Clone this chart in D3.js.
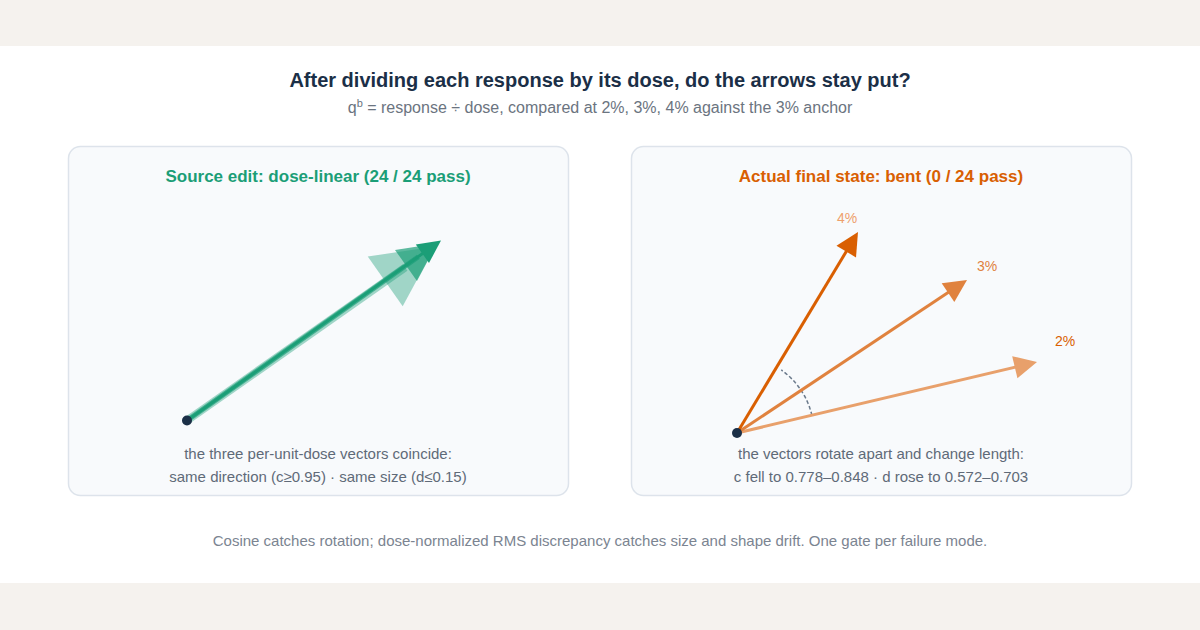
<!DOCTYPE html>
<html>
<head>
<meta charset="utf-8">
<script src="https://cdn.jsdelivr.net/npm/d3@7"></script>
<style>
  html, body { margin: 0; padding: 0; background: #f5f2ee; }
  svg { display: block; font-family: "Liberation Sans", Arial, Helvetica, sans-serif; }
</style>
</head>
<body>
<div id="chart"></div>
<script>
// per-unit-dose response vectors (q^b), x = component 1, y = component 2
const doses = ["2%", "3%", "4%"];
const linearX = [2.48, 2.50, 2.54];
const linearY = [1.74, 1.77, 1.80];
const bentX = [3.00, 2.30, 1.21];
const bentY = [0.71, 1.53, 2.01];

const leftCaption = ["the three per-unit-dose vectors coincide:", "same direction (c\u22650.95) \u00b7 same size (d\u22640.15)"];
const rightCaption = ["the vectors rotate apart and change length:", "c fell to 0.778\u20130.848 \u00b7 d rose to 0.572\u20130.703"];

const width = 1200, height = 630;

const svg = d3.select("#chart").append("svg")
    .attr("width", width)
    .attr("height", height)
    .attr("viewBox", [0, 0, width, height]);

svg.append("rect").attr("width", width).attr("height", height).attr("fill", "#f5f2ee");
svg.append("rect").attr("x", 0).attr("y", 46).attr("width", width).attr("height", 537).attr("fill", "#ffffff");

svg.append("text")
    .attr("x", 600).attr("y", 87)
    .attr("text-anchor", "middle")
    .attr("font-size", 20).attr("font-weight", 700)
    .attr("fill", "#1b2f47")
    .text("After dividing each response by its dose, do the arrows stay put?");

const sub = svg.append("text")
    .attr("x", 600).attr("y", 113)
    .attr("text-anchor", "middle")
    .attr("font-size", 16)
    .attr("fill", "#6b7480");
sub.append("tspan").text("q");
sub.append("tspan").attr("dy", -6).attr("font-size", 11).text("b");
sub.append("tspan").attr("dy", 6).text(" = response \u00f7 dose, compared at 2%, 3%, 4% against the 3% anchor");

svg.append("text")
    .attr("x", 600).attr("y", 546)
    .attr("text-anchor", "middle")
    .attr("font-size", 15)
    .attr("fill", "#7b8491")
    .text("Cosine catches rotation; dose-normalized RMS discrepancy catches size and shape drift. One gate per failure mode.");

// one scale for both panels: 1 unit of q^b = 100 px
const x = d3.scaleLinear().domain([0, 1]).range([0, 100]);
const y = d3.scaleLinear().domain([0, 1]).range([0, -100]);

function panel(px, title, titleColor, caption) {
    const g = svg.append("g").attr("transform", `translate(${px},146)`);
    g.append("rect")
        .attr("x", 0.5).attr("y", 0.5)
        .attr("width", 500).attr("height", 349)
        .attr("rx", 12)
        .attr("fill", "#f8fafc")
        .attr("stroke", "#dde3eb")
        .attr("stroke-width", 1.5);
    g.append("text")
        .attr("x", 250).attr("y", 36)
        .attr("text-anchor", "middle")
        .attr("font-size", 17).attr("font-weight", 700)
        .attr("fill", titleColor)
        .text(title);
    g.selectAll("text.cap")
        .data(caption)
        .enter()
        .append("text")
        .attr("class", "cap")
        .attr("x", 250)
        .attr("y", (d, i) => 313 + i * 23)
        .attr("text-anchor", "middle")
        .attr("font-size", 15)
        .attr("fill", "#5f6a78")
        .text(d => d);
    return g;
}

function arrow(g, vx, vy, color, opacity, sw) {
    const tx = x(vx), ty = y(vy);
    const len = Math.hypot(tx, ty);
    const ux = tx / len, uy = ty / len;
    const L = 7.6 * sw, W = 7.6 * sw;
    const bx = tx - ux * L, by = ty - uy * L;
    g.append("line")
        .attr("x1", 0).attr("y1", 0)
        .attr("x2", tx - ux * L * 0.6).attr("y2", ty - uy * L * 0.6)
        .attr("stroke", color)
        .attr("stroke-opacity", opacity)
        .attr("stroke-width", sw);
    g.append("path")
        .attr("d", d3.line()([[tx, ty], [bx - uy * W / 2, by + ux * W / 2], [bx + uy * W / 2, by - ux * W / 2]]) + "Z")
        .attr("fill", color)
        .attr("fill-opacity", opacity);
}

// left: dose-linear
const left = panel(68, "Source edit: dose-linear (24 / 24 pass)", "#1b9e77", leftCaption);
const lo = left.append("g").attr("transform", "translate(119,274.5)");
const greenOpacity = [0.4, 0.7, 1];
const greenWidth = [8, 5, 3];
doses.forEach((d, i) => arrow(lo, linearX[i], linearY[i], "#1b9e77", greenOpacity[i], greenWidth[i]));
lo.append("circle").attr("r", 5).attr("fill", "#1b2f47");

// right: bent
const right = panel(631, "Actual final state: bent (0 / 24 pass)", "#d95f02", rightCaption);
const ro = right.append("g").attr("transform", "translate(106,287)");
const arrowColors = ["#e8a06b", "#e0823e", "#d95f02"];
const labelColors = ["#d95f02", "#e0823e", "#eea06c"];
const labelOffset = [[28, -16], [20, -9], [-11, -9]];

const ang = doses.map((d, i) => Math.atan2(y(bentY[i]), x(bentX[i])));
const arc = d3.arc()
    .innerRadius(77).outerRadius(77)
    .startAngle(Math.PI / 2 + ang[0])
    .endAngle(Math.PI / 2 + ang[2] + 0.07);
ro.append("path")
    .attr("d", arc())
    .attr("fill", "none")
    .attr("stroke", "#6b7a8c")
    .attr("stroke-width", 1.5)
    .attr("stroke-dasharray", "3,3");

doses.forEach((d, i) => arrow(ro, bentX[i], bentY[i], arrowColors[i], 1, 3));
ro.selectAll("text.lab")
    .data(doses)
    .enter()
    .append("text")
    .attr("class", "lab")
    .attr("x", (d, i) => x(bentX[i]) + labelOffset[i][0])
    .attr("y", (d, i) => y(bentY[i]) + labelOffset[i][1])
    .attr("text-anchor", "middle")
    .attr("font-size", 14)
    .attr("fill", (d, i) => labelColors[i])
    .text(d => d);
ro.append("circle").attr("r", 5).attr("fill", "#1b2f47");
</script>
</body>
</html>
